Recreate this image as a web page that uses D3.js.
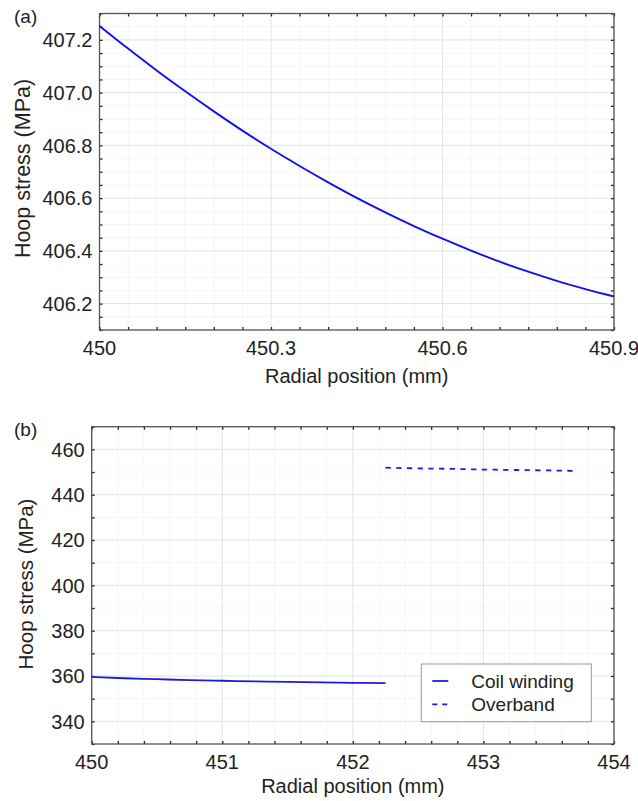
<!DOCTYPE html>
<html>
<head>
<meta charset="utf-8">
<script src="https://cdn.jsdelivr.net/npm/d3@7"></script>
<style>
  body { margin: 0; background: #fff; }
  svg text { font-family: Arial, "Liberation Sans", sans-serif; fill: #222; }
</style>
</head>
<body>
<div class="chart"></div>
<script>
// panel (a) data
var radiusA = [450.00, 450.05, 450.10, 450.15, 450.20, 450.25, 450.30, 450.35, 450.40, 450.45,
  450.50, 450.55, 450.60, 450.65, 450.70, 450.75, 450.80, 450.85, 450.90];
var stressA = [407.253, 407.167, 407.084, 407.005, 406.929, 406.856, 406.787, 406.722, 406.660, 406.601,
  406.546, 406.494, 406.446, 406.401, 406.359, 406.321, 406.286, 406.255, 406.227];
var xTicksA = [450, 450.3, 450.6, 450.9];
var yTicksA = [406.2, 406.4, 406.6, 406.8, 407.0, 407.2];

// panel (b) data
var coilRadius = [450.00, 450.25, 450.50, 450.75, 451.00, 451.25, 451.50, 451.75, 452.00, 452.25];
var coilStress = [359.6, 359.0, 358.6, 358.2, 357.9, 357.6, 357.4, 357.2, 357.0, 356.9];
var bandRadius = [452.25, 452.50, 452.75, 453.00, 453.25, 453.50, 453.70];
var bandStress = [451.9, 451.6, 451.4, 451.1, 450.9, 450.7, 450.5];
var xTicksB = [450, 451, 452, 453, 454];
var yTicksB = [340, 360, 380, 400, 420, 440, 460];
var seriesNames = ['Coil winding', 'Overband'];

var svg = d3.select('.chart')
  .append('svg')
  .attr('width', 638)
  .attr('height', 801);

// draws one framed panel with grid, inward ticks on all four sides
function drawPanel(opt) {
  var x = d3.scaleLinear().domain(opt.xDomain).range([opt.left, opt.right]);
  var y = d3.scaleLinear().domain(opt.yDomain).range([opt.bottom, opt.top]);
  var g = svg.append('g');

  var xMinor = d3.range(opt.xDomain[0], opt.xDomain[1] + opt.xMinor / 2, opt.xMinor);
  var yMinor = d3.range(opt.yDomain[0], opt.yDomain[1] + opt.yMinor / 2, opt.yMinor);

  // minor grid
  g.append('g').selectAll('line').data(xMinor).enter().append('line')
    .attr('x1', d => x(d)).attr('x2', d => x(d))
    .attr('y1', opt.top).attr('y2', opt.bottom)
    .attr('stroke', '#ebebeb').attr('stroke-dasharray', '1,1');
  g.append('g').selectAll('line').data(yMinor).enter().append('line')
    .attr('y1', d => y(d)).attr('y2', d => y(d))
    .attr('x1', opt.left).attr('x2', opt.right)
    .attr('stroke', '#ebebeb').attr('stroke-dasharray', '1,1');
  // major grid
  g.append('g').selectAll('line').data(opt.xTicks).enter().append('line')
    .attr('x1', d => x(d)).attr('x2', d => x(d))
    .attr('y1', opt.top).attr('y2', opt.bottom)
    .attr('stroke', '#d4d4d4').attr('stroke-dasharray', '1,1');
  g.append('g').selectAll('line').data(opt.yTicks).enter().append('line')
    .attr('y1', d => y(d)).attr('y2', d => y(d))
    .attr('x1', opt.left).attr('x2', opt.right)
    .attr('stroke', '#d4d4d4').attr('stroke-dasharray', '1,1');

  // axes with inward ticks
  function axisStyle(sel) {
    sel.select('.domain').remove();
    sel.selectAll('.tick line').attr('stroke', '#222').attr('stroke-width', 1.3);
    sel.selectAll('text').remove();
  }
  g.append('g').attr('transform', 'translate(0,' + opt.bottom + ')')
    .call(d3.axisBottom(x).tickValues(xMinor).tickSize(-3)).call(axisStyle);
  g.append('g').attr('transform', 'translate(0,' + opt.top + ')')
    .call(d3.axisTop(x).tickValues(xMinor).tickSize(-3)).call(axisStyle);
  g.append('g').attr('transform', 'translate(' + opt.left + ',0)')
    .call(d3.axisLeft(y).tickValues(yMinor).tickSize(-3)).call(axisStyle);
  g.append('g').attr('transform', 'translate(' + opt.right + ',0)')
    .call(d3.axisRight(y).tickValues(yMinor).tickSize(-3)).call(axisStyle);

  // frame
  g.append('rect')
    .attr('x', opt.left).attr('y', opt.top)
    .attr('width', opt.right - opt.left).attr('height', opt.bottom - opt.top)
    .attr('fill', 'none').attr('stroke', '#555').attr('stroke-width', 1.3);

  // tick labels
  g.append('g').selectAll('text').data(opt.xTicks).enter().append('text')
    .attr('x', d => x(d)).attr('y', opt.bottom + 25)
    .attr('text-anchor', 'middle').style('font-size', '20px')
    .text(opt.xFormat);
  g.append('g').selectAll('text').data(opt.yTicks).enter().append('text')
    .attr('x', opt.left - 7).attr('y', d => y(d)).attr('dy', '0.36em')
    .attr('text-anchor', 'end').style('font-size', '20px')
    .text(opt.yFormat);

  // axis titles
  g.append('text')
    .attr('x', (opt.left + opt.right) / 2).attr('y', opt.bottom + opt.xTitleGap)
    .attr('text-anchor', 'middle').style('font-size', '20px')
    .text('Radial position (mm)');
  g.append('text')
    .attr('transform', 'rotate(-90)')
    .attr('x', -opt.yTitleY).attr('y', opt.yTitleX)
    .attr('text-anchor', 'middle').style('font-size', opt.yTitleSize)
    .text('Hoop stress (MPa)');
  g.append('text')
    .attr('x', 14).attr('y', opt.top + 9)
    .style('font-size', '19px')
    .text(opt.tag);

  return { x: x, y: y, g: g };
}

// panel (a)
var pa = drawPanel({
  left: 99.5, right: 614, top: 13.5, bottom: 330,
  xDomain: [450, 450.9], yDomain: [406.1, 407.3],
  xMinor: 0.05, yMinor: 0.05,
  xTicks: xTicksA, yTicks: yTicksA,
  xFormat: d3.format('~f'), yFormat: d3.format('.1f'),
  xTitleGap: 53, yTitleX: 30, yTitleY: 168.5, yTitleSize: '21.5px', tag: '(a)'
});

var lineA = d3.line()
  .x((d, i) => pa.x(radiusA[i]))
  .y(d => pa.y(d))
  .curve(d3.curveMonotoneX);
pa.g.append('path')
  .datum(stressA)
  .attr('d', lineA)
  .attr('fill', 'none')
  .attr('stroke', '#1010f0')
  .attr('stroke-width', 1.9);

// panel (b)
var pb = drawPanel({
  left: 91.7, right: 614, top: 426.7, bottom: 744,
  xDomain: [450, 454], yDomain: [330, 470],
  xMinor: 0.2, yMinor: 10,
  xTicks: xTicksB, yTicks: yTicksB,
  xFormat: d3.format('d'), yFormat: d3.format('d'),
  xTitleGap: 49, yTitleX: 33, yTitleY: 584, yTitleSize: '20.5px', tag: '(b)'
});

var coilLine = d3.line()
  .x((d, i) => pb.x(coilRadius[i]))
  .y(d => pb.y(d))
  .curve(d3.curveMonotoneX);
var bandLine = d3.line()
  .x((d, i) => pb.x(bandRadius[i]))
  .y(d => pb.y(d))
  .curve(d3.curveMonotoneX);

pb.g.append('path')
  .datum(coilStress)
  .attr('d', coilLine)
  .attr('fill', 'none')
  .attr('stroke', '#1c1cd8')
  .attr('stroke-width', 1.8);
pb.g.append('path')
  .datum(bandStress)
  .attr('d', bandLine)
  .attr('fill', 'none')
  .attr('stroke', '#1c1cd8')
  .attr('stroke-width', 1.8)
  .attr('stroke-dasharray', '5.3,5.4');

// legend
var legend = pb.g.append('g').attr('transform', 'translate(421.3,664)');
legend.append('rect')
  .attr('width', 170).attr('height', 57.7)
  .attr('fill', '#fff').attr('stroke', '#999').attr('stroke-width', 1);
var items = legend.selectAll('g.item').data(seriesNames).enter().append('g')
  .attr('class', 'item')
  .attr('transform', (d, i) => 'translate(0,' + (17 + i * 23.3) + ')');
items.append('line')
  .attr('x1', 11).attr('x2', 27).attr('y1', 0).attr('y2', 0)
  .attr('stroke', '#1c1cd8').attr('stroke-width', 1.8)
  .attr('stroke-dasharray', (d, i) => i === 0 ? null : '5,5');
items.append('text')
  .attr('x', 50).attr('dy', '0.36em')
  .style('font-size', '19px')
  .text(d => d);
</script>
</body>
</html>
